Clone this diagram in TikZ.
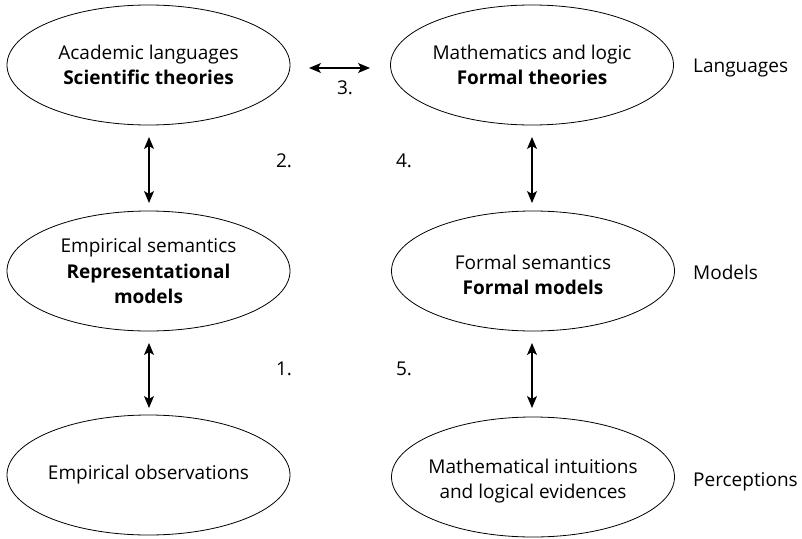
\documentclass[tikz,border=0pt]{standalone}
\usepackage{fontspec}
\setmainfont{Open Sans}
\usetikzlibrary{shapes.geometric,arrows.meta}
\begin{document}
\begin{tikzpicture}[x=1pt,y=-1pt,
  ell/.style={draw,ellipse,minimum width=283pt,minimum height=120pt,inner sep=0pt,line width=0.8pt},
  txt/.style={align=center,inner sep=0pt,font=\fontsize{19}{25.5}\selectfont},
  lab/.style={font=\fontsize{19}{22}\selectfont,inner sep=0pt},
  dbl/.style={{Stealth[length=12pt,width=10pt,inset=3pt]}-{Stealth[length=12pt,width=10pt,inset=3pt]},line width=1.1pt}]
\useasboundingbox (0,0) rectangle (802,538);
\node[ell] (al) at (148.5,65) {};
\node[ell] (ml) at (532,65) {};
\node[ell] (es) at (148.5,271) {};
\node[ell] (fs) at (533,271) {};
\node[ell] (eo) at (148.5,475) {};
\node[ell] (mi) at (533,477) {};
\node[txt] (alt) at (al.center) {Academic languages\\\textbf{Scientific theories}};
\node[txt] (mlt) at (ml.center) {Mathematics and logic\\\textbf{Formal theories}};
\node[txt] (est) at (es.center) {Empirical semantics\\\textbf{Representational}\\\textbf{models}};
\node[txt] (fst) at ([yshift=-4pt]fs.center) {Formal semantics\\\textbf{Formal models}};
\node[txt] (eot) at (eo.center) {Empirical observations};
\node[txt] (mit) at ([yshift=-4pt]mi.center) {Mathematical intuitions\\and logical evidences};
\coordinate (a1t) at (149,137); \coordinate (a1b) at (149,203);
\coordinate (a2t) at (149,343); \coordinate (a2b) at (149,408);
\coordinate (a3t) at (532,137); \coordinate (a3b) at (532,203);
\coordinate (a4t) at (532,343); \coordinate (a4b) at (532,408);
\coordinate (h1) at (309,68); \coordinate (h2) at (370,68);
\draw[dbl] (a1t) -- (a1b);
\draw[dbl] (a2t) -- (a2b);
\draw[dbl] (a3t) -- (a3b);
\draw[dbl] (a4t) -- (a4b);
\draw[dbl] (h1) -- (h2);
\node[lab] (n3) at (345,88) {3.};
\node[lab] (n2) at (284,161) {2.};
\node[lab] (n4) at (404,161) {4.};
\node[lab] (n1) at (284,369) {1.};
\node[lab] (n5) at (404,369) {5.};
\node[lab,anchor=west] (L) at (693,68) {Languages};
\node[lab,anchor=west] (M) at (693,272) {Models};
\node[lab,anchor=west] (P) at (693,482) {Perceptions};
\end{tikzpicture}
\end{document}
